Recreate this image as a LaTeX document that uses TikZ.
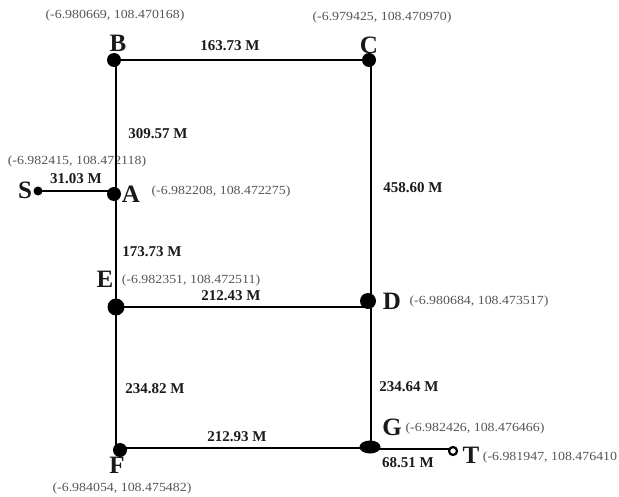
\documentclass[tikz,border=0pt]{standalone}
\usepackage{fontspec}
\setmainfont{Liberation Serif}
\newfontfamily\coordfont[FakeStretch=1.12]{Liberation Serif}
\usepackage{xcolor}
\usetikzlibrary{shapes.geometric}
\definecolor{mapInk}{HTML}{1A1A1A}
\definecolor{mapMuted}{HTML}{555555}
\tikzset{
  map diagram/.style={text=mapInk, line cap=round, line join=round},
  map dot/.style={circle, fill=black, inner sep=0pt, minimum size=#1},
  map open dot/.style={circle, draw=black, fill=white, line width=2.2pt, inner sep=0pt, minimum size=8pt},
  map road/.style={draw=black, line width=2.8pt},
  map letter/.style={font=\fontsize{25}{25}\selectfont\bfseries, inner sep=0pt},
  map length/.style={font=\fontsize{15}{15}\selectfont\bfseries, inner sep=0pt},
  map coord/.style={font=\coordfont\fontsize{12.4}{13}\selectfont, text=mapMuted, inner sep=0pt}
}
\begin{document}
\begin{tikzpicture}[map diagram,x=1pt,y=-1pt]
\useasboundingbox (0,0) rectangle (619,497);
% text goes first, the roads run over it
\foreach \n/\x/\y/\t in {cB/115/16/{(-6.980669, 108.470168)},cC/382/18/{(-6.979425, 108.470970)},
  cS/77/162/{(-6.982415, 108.472118)},cA/221/192/{(-6.982208, 108.472275)},
  cE/191/281/{(-6.982351, 108.472511)},cD/479/302/{(-6.980684, 108.473517)},
  cF/122/489/{(-6.984054, 108.475482)},cG/475/429/{(-6.982426, 108.476466)},
  cT/550/458/{(-6.981947, 108.476410}}{
  \node[map coord] (\n) at (\x,\y) {\t};
}
\foreach \n/\x/\y/\t in {lBC/230/46/163.73 M,lBA/158/134/309.57 M,lSA/76/179/31.03 M,lAE/152/252/173.73 M,
  lED/231/296/212.43 M,lEF/155/389/234.82 M,lFG/237/437/212.93 M,lCD/413/188/458.60 M,
  lDG/409/387/234.64 M,lGT/408/463/68.51 M}{
  \node[map length] (\n) at (\x,\y) {\t};
}
\foreach \n/\x/\y/\t in {tB/118/43/B,tC/369/45/C,tA/131/194/A,tS/25/190/S,tE/105/279/E,
  tD/392/301/D,tF/117/465/F,tG/392/427/G,tT/471/455/T}{
  \node[map letter] (\n) at (\x,\y) {\t};
}
\coordinate (left) at (116,0);
\coordinate (right) at (371,0);
\node[map dot=14pt] (B) at (114,60) {};
\node[map dot=14pt] (C) at (369,60) {};
\node[map dot=14pt] (A) at (114,194) {};
\node[map dot=9pt] (S) at (38,191) {};
\node[map dot=17pt] (E) at (116,307) {};
\node[map dot=16pt] (D) at (368,301) {};
\node[map dot=14pt] (F) at (120,450) {};
\node[ellipse, fill=black, inner sep=0pt, minimum width=21pt, minimum height=13pt] (G) at (370,447) {};
\coordinate (ed) at (0,307);
\coordinate (fg) at (0,448);
\coordinate (gt) at (449,449);
\draw[map road] (B -| left) -- (A -| left);
\draw[map road] (A -| left) -- (E -| left);
\draw[map road] (E -| left) -- (F -| left);
\draw[map road] (C -| right) -- (D -| right);
\draw[map road] (D -| right) -- (G -| right);
\draw[map road] (B) -- (C);
\draw[map road] (S) -- (S -| A);
\draw[map road] (E) -- (ed -| right);
\draw[map road] (fg -| F) -- (fg -| G);
\draw[map road] (G |- gt) -- (gt);
\node[map open dot] (T) at (453,451) {};
\end{tikzpicture}
\end{document}
